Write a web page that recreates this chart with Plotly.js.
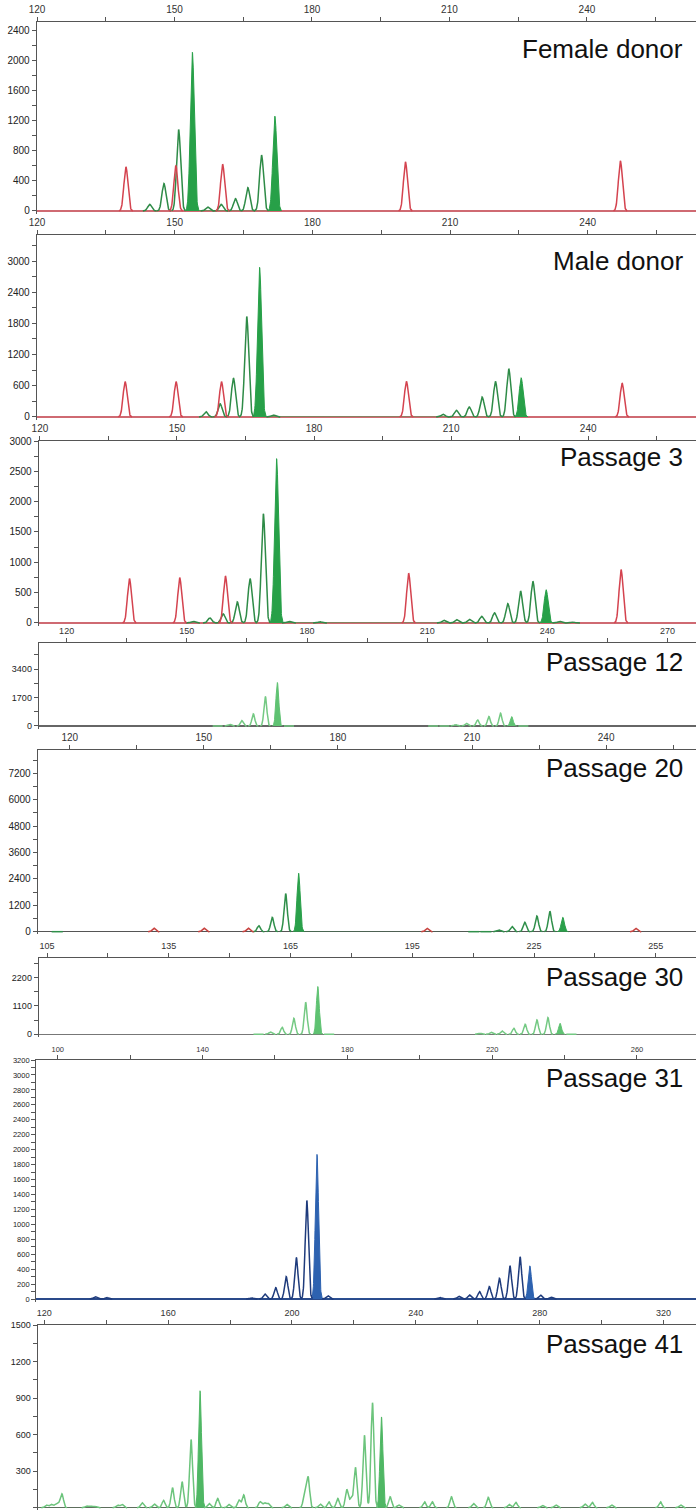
<!DOCTYPE html>
<html><head><meta charset="utf-8">
<script src="https://cdn.plot.ly/plotly-3.0.1.min.js"></script>
<style>html,body{margin:0;padding:0;background:#fff}#chart{width:696px;height:1510px}</style>
</head><body><div id="chart"></div>
<script>
// ---------- data (fragment size in bp, peak height in RFU) ----------
const femaleSizeStdPos = [139.4, 150.3, 160.5, 200.4, 247.3];
const femaleSizeStdHt  = [585, 598, 620, 651, 665];
const femaleOutlinePos = [144.6, 147.7, 150.9, 157.2, 160.2, 163.3, 166.0, 169.0];
const femaleOutlineHt  = [89, 363, 1081, 53, 89, 164, 310, 740];
const femaleFilledPos  = [153.9, 171.9];
const femaleFilledHt   = [2105, 1258];

const maleSizeStdPos = [139.2, 150.3, 160.2, 200.5, 247.5];
const maleSizeStdHt  = [678, 678, 678, 684, 652];
const maleOutlinePos = [156.8, 159.9, 162.8, 165.7, 171.5, 208.5, 211.4, 214.2, 217.0, 219.9, 222.8];
const maleOutlineHt  = [102, 256, 748, 1932, 40, 51, 128, 192, 384, 684, 927];
const maleFilledPos  = [168.5, 225.5];
const maleFilledHt   = [2878, 755];

const p3SizeStdPos = [139.6, 150.6, 160.6, 200.7, 247.2];
const p3SizeStdHt  = [731, 747, 775, 820, 880];
const p3OutlinePos = [153.5, 157.2, 160.1, 163.2, 166.0, 168.9, 174.5, 181.3, 208.4, 211.2, 214.0, 216.7, 219.5, 222.4, 225.2, 227.9, 233.7, 236.7];
const p3OutlineHt  = [25, 82, 150, 346, 731, 1802, 25, 20, 44, 55, 60, 110, 165, 318, 527, 686, 25, 15];
const p3FilledPos  = [171.8, 230.8];
const p3FilledHt   = [2709, 549];

const p12OutlinePos = [157.7, 160.7, 163.7, 166.6, 169.6, 175.5, 211.5, 214.3, 217.1, 219.8, 222.6, 225.4, 228.3, 234.0];
const p12OutlineHt  = [20, 100, 320, 720, 1760, 20, 20, 40, 80, 160, 360, 560, 760, 20];
const p12FilledPos  = [172.6, 231.1];
const p12FilledHt   = [2600, 560];

const p20SizeStdPos = [138.8, 150.0, 159.9, 199.9, 246.6];
const p20SizeStdHt  = [160, 160, 160, 150, 150];
const p20OutlinePos = [117.2, 162.3, 165.3, 168.3, 210.4, 213.1, 216.0, 218.9, 221.8, 224.5, 227.4];
const p20OutlineHt  = [30, 273, 653, 1732, 15, 25, 76, 243, 425, 714, 927];
const p20FilledPos  = [171.2, 230.3];
const p20FilledHt   = [2658, 653];

const p30OutlinePos = [157.1, 160.0, 162.9, 165.8, 168.7, 174.5, 211.7, 214.4, 217.1, 220.0, 222.8, 225.7, 228.4, 234.2];
const p30OutlineHt  = [26, 90, 272, 621, 1242, 26, 39, 78, 130, 233, 388, 556, 647, 26];
const p30FilledPos  = [171.7, 231.4];
const p30FilledHt   = [1850, 427];

const p31OutlinePos = [110.4, 113.5, 153.6, 157.2, 160.2, 163.1, 165.9, 168.8, 174.6, 205.6, 210.8, 213.7, 216.5, 219.2, 222.0, 224.9, 227.7, 233.3, 236.2];
const p31OutlineHt  = [30, 20, 15, 67, 152, 300, 556, 1318, 45, 20, 35, 55, 100, 166, 278, 444, 565, 54, 25];
const p31FilledPos  = [171.6, 230.4];
const p31FilledHt   = [1936, 444];

const p41OutlinePos = [120.7,122.2,123.6,124.6,125.7,133.7,135.1,136.5,143.7,145.1,151.6,155.5,158.5,161.4,164.5,167.4,173.2,176.0,179.6,182.9,184.4,189.7,191.1,192.3,198.3,204.1,205.2,209.1,211.9,214.8,217.7,219.1,220.5,223.4,226.0,231.7,234.5,242.8,245.3,251.5,258.6,263.4,270.1,272.3,280.9,285.2,294.6,297.0,303.2,319.0,325.5];
const p41OutlineHt  = [22,27,27,30,112,14,14,11,22,27,41,30,60,164,213,559,35,76,27,63,104,49,38,35,27,117,248,30,49,76,150,76,330,595,862,90,22,49,49,90,35,85,27,44,19,22,30,44,22,49,22];
const p41FilledPos  = [170.3, 228.9];
const p41FilledHt   = [960, 745];

const panelLabels = ['Female donor','Male donor','Passage 3','Passage 12','Passage 20','Passage 30','Passage 31','Passage 41'];

// ---------- layout / style ----------
const W = 696, H = 1510;
const FONT = 'Liberation Sans, Arial, sans-serif';
const panels = [
 {red:[femaleSizeStdPos,femaleSizeStdHt], out:[femaleOutlinePos,femaleOutlineHt], fil:[femaleFilledPos,femaleFilledHt],
  top:22,bottom:214,left:37,xr:[120,263.8],yr:[-40,2507],xt0:120,xdt:30,xmn:15,ydt:400,ymn:200,fs:10,sig:0.44,
  oc:'#2e8b47',fc:'#27a048',rc:'#d4434f',base:'#cf6a72',ty:49},
 {red:[maleSizeStdPos,maleSizeStdHt], out:[maleOutlinePos,maleOutlineHt], fil:[maleFilledPos,maleFilledHt],
  top:235,bottom:420,left:37,xr:[120,263.6],yr:[-58,3500],xt0:120,xdt:30,xmn:15,ydt:600,ymn:300,fs:10,sig:0.44,
  oc:'#2e8b47',fc:'#27a048',rc:'#d4434f',base:'#cf6a72',ty:261},
 {red:[p3SizeStdPos,p3SizeStdHt], out:[p3OutlinePos,p3OutlineHt], fil:[p3FilledPos,p3FilledHt],
  top:441,bottom:626,left:39,xr:[119.8,263.6],yr:[-50,3000],xt0:120,xdt:30,xmn:15,ydt:500,ymn:250,fs:10,sig:0.44,
  oc:'#2e8b47',fc:'#27a048',rc:'#d4434f',base:'#cf6a72',ty:457},
 {red:null, out:[p12OutlinePos,p12OutlineHt], fil:[p12FilledPos,p12FilledHt],
  top:643,bottom:729,left:39,xr:[113.1,277.1],yr:[-180,4960],xt0:120,xdt:30,xmn:15,ydt:1700,ymn:850,fs:9,sig:0.36,
  oc:'#74c983',fc:'#5fc272',rc:null,base:'#666666',ty:662},
 {red:[p20SizeStdPos,p20SizeStdHt], out:[p20OutlinePos,p20OutlineHt], fil:[p20FilledPos,p20FilledHt],
  top:750,bottom:934,left:38,xr:[112.9,260.1],yr:[-105,8260],xt0:120,xdt:30,xmn:15,ydt:1200,ymn:600,fs:10,sig:0.36,
  oc:'#2f8f4a',fc:'#2aa04a',rc:'#c8423f',base:'#555555',ty:768},
 {red:null, out:[p30OutlinePos,p30OutlineHt], fil:[p30FilledPos,p30FilledHt],
  top:958,bottom:1036.5,left:39,xr:[103.0,264.9],yr:[-85,2953],xt0:105,xdt:30,xmn:15,ydt:1100,ymn:550,fs:9,sig:0.36,
  oc:'#74c983',fc:'#5fc272',rc:null,base:'#777777',ty:977},
 {red:null, out:[p31OutlinePos,p31OutlineHt], fil:[p31FilledPos,p31FilledHt],
  top:1060,bottom:1302,left:36.4,xr:[94.1,276.3],yr:[-40,3200],xt0:100,xdt:40,xmn:20,ydt:200,ymn:100,fs:7.5,sig:0.45,
  oc:'#1e3b7c',fc:'#2d62b0',rc:null,base:'#2a4a8a',ty:1078},
 {red:null, out:[p41OutlinePos,p41OutlineHt], fil:[p41FilledPos,p41FilledHt],
  top:1325,bottom:1510,left:37.8,xr:[117.9,330.5],yr:[-19,1500],xt0:120,xdt:40,xmn:20,ydt:300,ymn:150,fs:9,sig:0.48,
  oc:'#6cc47c',fc:'#4fb764',rc:null,base:'#5d6e5d',ty:1344}
];

// peak shape rendering (each peak drawn as a narrow Gaussian profile)
function curve(grid, pos, hts, sig) {
  const cut = 3.5 * sig;
  return grid.map(x => {
    let s = 0, near = false;
    for (let i = 0; i < pos.length; i++) {
      const d = x - pos[i];
      if (Math.abs(d) < cut) { near = true; s += hts[i] * Math.exp(-d * d / (2 * sig * sig)); }
    }
    return near ? s : null;
  });
}

const traces = [];
const layout = {
  width: W, height: H, margin: {l:0, r:0, t:0, b:0},
  paper_bgcolor: '#fff', plot_bgcolor: '#fff', showlegend: false, annotations: []
};

panels.forEach((p, k) => {
  const n = k + 1, xa = 'x' + (n === 1 ? '' : n), ya = 'y' + (n === 1 ? '' : n);
  const grid = [];
  for (let x = p.xr[0]; x <= p.xr[1]; x += 0.05) grid.push(+x.toFixed(3));
  traces.push({x: grid, y: curve(grid, p.fil[0], p.fil[1], p.sig), type: 'scatter', mode: 'lines',
    xaxis: xa, yaxis: ya, fill: 'tozeroy', fillcolor: p.fc, line: {color: p.fc, width: 1}, connectgaps: false, hoverinfo: 'skip'});
  traces.push({x: grid, y: curve(grid, p.out[0], p.out[1], p.sig), type: 'scatter', mode: 'lines',
    xaxis: xa, yaxis: ya, line: {color: p.oc, width: 1.5}, connectgaps: false, hoverinfo: 'skip'});
  if (p.red) traces.push({x: grid, y: curve(grid, p.red[0], p.red[1], p.sig), type: 'scatter', mode: 'lines',
    xaxis: xa, yaxis: ya, line: {color: p.rc, width: 1.5}, connectgaps: false, hoverinfo: 'skip'});

  const tickStyle = {ticks: 'outside', ticklen: 4, tickwidth: 1, tickcolor: '#555'};
  layout['xaxis' + (n === 1 ? '' : n)] = Object.assign({
    domain: [p.left / W, 1], range: p.xr, side: 'top', anchor: ya,
    showline: true, linecolor: '#555', linewidth: 1.3, showgrid: false, zeroline: false,
    tick0: p.xt0, dtick: p.xdt, tickfont: {family: FONT, size: p.fs, color: '#333'},
    minor: {dtick: p.xmn, tick0: p.xt0, ticks: 'outside', ticklen: 4, tickcolor: '#555', showgrid: false}
  }, tickStyle);
  layout['yaxis' + (n === 1 ? '' : n)] = Object.assign({
    domain: [1 - p.bottom / H, 1 - p.top / H], range: p.yr, anchor: xa, side: 'left',
    showline: true, linecolor: '#555', linewidth: 1.3, showgrid: false,
    zeroline: true, zerolinecolor: p.base, zerolinewidth: 1.5,
    tick0: 0, dtick: p.ydt, tickfont: {family: FONT, size: p.fs, color: '#222'},
    minor: {dtick: p.ymn, tick0: 0, ticks: 'outside', ticklen: 4, tickcolor: '#555', showgrid: false}
  }, tickStyle);
  layout.annotations.push({text: panelLabels[k], xref: 'paper', yref: 'paper', x: 685 / W, y: 1 - p.ty / H,
    xanchor: 'right', yanchor: 'middle', showarrow: false, font: {family: FONT, size: 26, color: '#111'}});
});

Plotly.newPlot('chart', traces, layout, {staticPlot: true, displayModeBar: false});
</script></body></html>
